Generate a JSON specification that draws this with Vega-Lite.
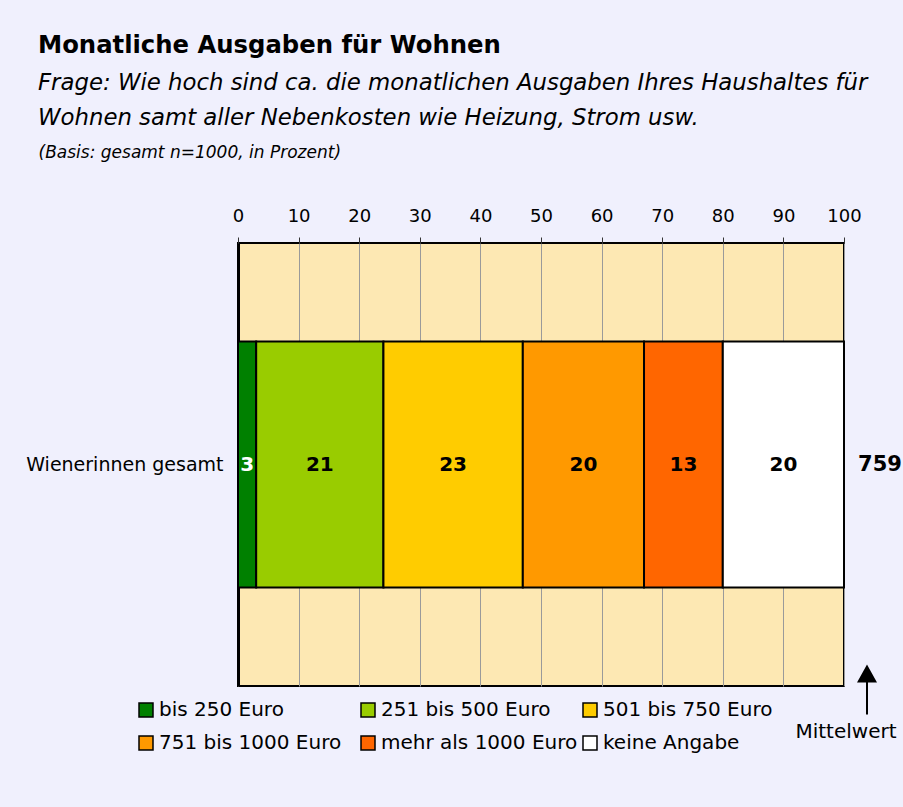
{
  "$schema": "https://vega.github.io/schema/vega-lite/v6.json",
  "width": 606,
  "height": 443,
  "autosize": {"type": "none"},
  "padding": {"left": 238, "top": 243, "right": 59, "bottom": 121},
  "background": "#F0F0FD",
  "config": {
    "font": "DejaVu Sans",
    "view": {"fill": "#FDE8B3", "stroke": "#000000", "strokeWidth": 2}
  },
  "title": {
    "text": "Monatliche Ausgaben für Wohnen",
    "subtitle": ["Frage: Wie hoch sind ca. die monatlichen Ausgaben Ihres Haushaltes für", "Wohnen samt aller Nebenkosten wie Heizung, Strom usw."],
    "anchor": "start",
    "frame": "group",
    "dx": -200,
    "offset": 13,
    "font": "DejaVu Sans",
    "fontSize": 24.3,
    "fontWeight": "bold",
    "color": "#000000",
    "subtitleFont": "DejaVu Sans",
    "subtitleFontSize": 22.8,
    "subtitleFontStyle": "italic",
    "subtitleColor": "#000000",
    "subtitleLineHeight": 35,
    "subtitlePadding": 14
  },
  "data": {
    "values": [
      {"cat": "Wienerinnen gesamt", "k": "bis 250 Euro", "v": 3, "o": 1},
      {"cat": "Wienerinnen gesamt", "k": "251 bis 500 Euro", "v": 21, "o": 2},
      {"cat": "Wienerinnen gesamt", "k": "501 bis 750 Euro", "v": 23, "o": 3},
      {"cat": "Wienerinnen gesamt", "k": "751 bis 1000 Euro", "v": 20, "o": 4},
      {"cat": "Wienerinnen gesamt", "k": "mehr als 1000 Euro", "v": 13, "o": 5},
      {"cat": "Wienerinnen gesamt", "k": "keine Angabe", "v": 20, "o": 6}
    ]
  },
  "transform": [
    {"stack": "v", "groupby": ["cat"], "sort": [{"field": "o", "order": "ascending"}], "as": ["x0", "x1"]},
    {"calculate": "(datum.x0 + datum.x1) / 2", "as": "mid"}
  ],
  "encoding": {
    "y": {
      "field": "cat",
      "type": "nominal",
      "scale": {"paddingInner": 0, "paddingOuter": 0.4},
      "axis": {
        "orient": "left",
        "title": "(Basis: gesamt n=1000, in Prozent)",
        "titleAngle": 0,
        "titleX": -200,
        "titleY": -91,
        "titleAlign": "left",
        "titleBaseline": "middle",
        "titleFontSize": 17,
        "titleFontStyle": "italic",
        "titleFontWeight": "normal",
        "titleColor": "#000000",
        "labelFontSize": 19,
        "labelColor": "#000000",
        "labelPadding": 15,
        "labelLimit": 400,
        "ticks": false,
        "domain": true,
        "domainColor": "#000000",
        "domainWidth": 3
      }
    }
  },
  "layer": [
    {
      "mark": {"type": "bar", "stroke": "#000000", "strokeWidth": 2},
      "encoding": {
        "x": {
          "field": "x0",
          "type": "quantitative",
          "scale": {"domain": [0, 100], "nice": false},
          "axis": {
            "orient": "top",
            "title": null,
            "values": [0, 10, 20, 30, 40, 50, 60, 70, 80, 90, 100],
            "labelFontSize": 18,
            "labelColor": "#000000",
            "labelPadding": 12,
            "labelFlush": false,
            "labelBound": false,
            "tickSize": 6,
            "tickColor": "#333333",
            "domain": false,
            "grid": true,
            "gridColor": "#9A9A9A",
            "gridWidth": 1
          }
        },
        "x2": {"field": "x1"},
        "color": {
          "field": "k",
          "type": "nominal",
          "sort": ["bis 250 Euro", "251 bis 500 Euro", "501 bis 750 Euro", "751 bis 1000 Euro", "mehr als 1000 Euro", "keine Angabe"],
          "scale": {
            "domain": ["bis 250 Euro", "251 bis 500 Euro", "501 bis 750 Euro", "751 bis 1000 Euro", "mehr als 1000 Euro", "keine Angabe"],
            "range": ["#008000", "#99CC00", "#FFCC00", "#FF9900", "#FF6600", "#FFFFFF"]
          },
          "legend": {
            "orient": "none",
            "legendX": -102,
            "legendY": 457,
            "title": null,
            "columns": 3,
            "direction": "horizontal",
            "gridAlign": "all",
            "columnPadding": 2,
            "rowPadding": 13,
            "symbolType": "square",
            "symbolSize": 196,
            "symbolStrokeColor": "#000000",
            "symbolStrokeWidth": 1.5,
            "labelFontSize": 20,
            "labelColor": "#000000",
            "labelOffset": 3,
            "labelLimit": 400
          }
        }
      }
    },
    {
      "mark": {"type": "text", "fontSize": 20, "fontWeight": "bold", "baseline": "middle", "align": "center"},
      "encoding": {
        "x": {"field": "mid", "type": "quantitative"},
        "text": {"field": "v", "type": "quantitative"},
        "color": {"condition": {"test": "datum.k === 'bis 250 Euro'", "value": "#FFFFFF"}, "value": "#000000"}
      }
    },
    {
      "data": {"values": [{"cat": "Wienerinnen gesamt", "mean": 759, "label": "Mittelwert"}]},
      "layer": [
        {
          "mark": {"type": "text", "fontSize": 21, "fontWeight": "bold", "baseline": "middle", "align": "center", "dx": 36, "color": "#000000"},
          "encoding": {"x": {"datum": 100, "type": "quantitative"}, "text": {"field": "mean", "type": "quantitative"}}
        },
        {
          "mark": {"type": "text", "fontSize": 20, "baseline": "middle", "align": "center", "dx": 2, "dy": 267, "color": "#000000"},
          "encoding": {"x": {"datum": 100, "type": "quantitative"}, "text": {"field": "label"}}
        },
        {
          "mark": {
            "type": "point",
            "filled": true,
            "color": "#000000",
            "opacity": 1,
            "strokeWidth": 0,
            "size": 2500,
            "xOffset": 23,
            "yOffset": 225,
            "shape": "M0,-1L0.4,-0.28L0.04,-0.28L0.04,1L-0.04,1L-0.04,-0.28L-0.4,-0.28Z"
          },
          "encoding": {"x": {"datum": 100, "type": "quantitative"}}
        }
      ]
    }
  ]
}
